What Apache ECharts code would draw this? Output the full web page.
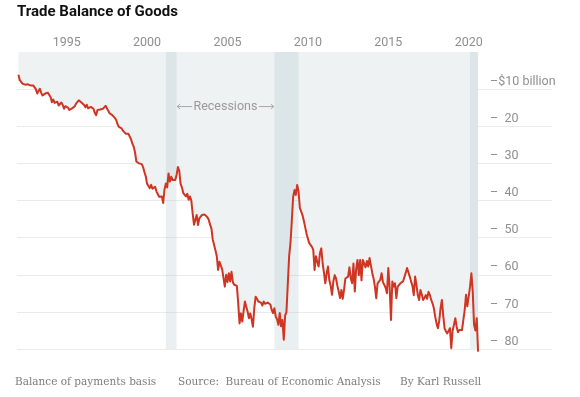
<!DOCTYPE html>
<html><head><meta charset="utf-8">
<script src="https://cdn.jsdelivr.net/npm/echarts@6/dist/echarts.min.js"></script>
<style>html,body{margin:0;padding:0;background:#fff}#c{width:580px;height:397px}</style>
</head><body><div id="c"></div>
<script>
// Monthly U.S. goods trade balance, billions of dollars, from Jan 1992
const startYear = 1992;
const balance = [
  -6.1,-7.6,-7.8,-8.5,-8.3,-8.8,-9.2,-8.7,-8.5,-9.0,-9.4,-9.0,          // 1992
  -8.9,-10.0,-11.2,-10.5,-9.9,-11.0,-11.7,-11.5,-11.2,-11.6,-11.0,-10.8,// 1993
  -12.2,-13.5,-12.8,-13.7,-13.9,-13.4,-14.4,-14.0,-13.6,-14.2,-15.3,-14.6, // 1994
  -14.3,-15.0,-15.6,-15.7,-15.2,-15.5,-14.6,-13.9,-13.4,-13.0,-13.4,-13.6, // 1995
  -13.6,-14.3,-14.9,-14.2,-15.2,-15.7,-14.8,-14.4,-15.3,-16.4,-17.0,-15.6, // 1996
  -16.0,-15.5,-15.0,-15.3,-14.8,-14.5,-14.9,-15.8,-16.5,-16.2,-17.0,-17.4, // 1997
  -17.8,-18.4,-19.5,-20.2,-19.8,-20.6,-21.2,-20.9,-22.0,-21.5,-22.0,-22.4, // 1998
  -23.5,-24.7,-25.5,-27.0,-29.5,-29.8,-30.0,-30.0,-30.2,-31.0,-32.3,-33.5, // 1999
  -35.5,-35.8,-36.7,-35.8,-36.8,-37.1,-36.3,-37.6,-38.0,-39.0,-39.4,-38.9, // 2000
  -40.7,-37.0,-35.4,-36.5,-32.7,-34.9,-33.6,-34.5,-35.0,-34.5,-33.1,-31.0, // 2001
  -32.0,-35.5,-36.5,-38.0,-38.5,-38.9,-38.2,-39.8,-38.9,-40.0,-43.5,-46.5, // 2002
  -46.8,-43.9,-46.6,-44.8,-44.3,-43.9,-44.3,-43.8,-43.4,-44.5,-45.2,-46.5, // 2003
  -47.5,-50.5,-52.0,-53.4,-55.0,-58.7,-56.5,-56.0,-58.5,-58.3,-63.2,-60.0, // 2004
  -62.0,-59.6,-61.8,-59.2,-62.0,-62.7,-63.2,-63.0,-67.7,-73.1,-70.4,-72.6, // 2005
  -69.9,-67.2,-68.6,-69.9,-71.7,-70.4,-72.0,-74.0,-69.0,-65.9,-66.5,-67.2, // 2006
  -67.0,-67.5,-68.3,-67.2,-67.8,-68.1,-67.5,-67.2,-68.0,-69.5,-70.3,-69.0, // 2007
  -71.3,-72.0,-73.5,-70.3,-73.9,-72.2,-77.5,-71.0,-70.0,-69.5,-55.0,-51.5, // 2008
  -45.5,-39.0,-37.2,-38.5,-35.8,-37.5,-42.0,-41.7,-44.0,-45.5,-45.7,-49.0, // 2009
  -48.8,-51.5,-52.0,-52.5,-53.3,-58.7,-55.0,-56.5,-57.8,-54.2,-52.9,-56.9, // 2010
  -59.5,-62.3,-59.6,-57.8,-61.5,-63.0,-65.4,-61.8,-60.1,-61.0,-63.0,-64.5, // 2011
  -66.3,-64.1,-66.5,-64.0,-61.0,-61.4,-60.5,-58.0,-61.0,-62.3,-57.0,-64.5, // 2012
  -58.5,-56.0,-60.1,-56.0,-61.5,-56.0,-55.6,-58.0,-56.3,-57.8,-55.5,-56.0, // 2013
  -59.5,-61.0,-63.2,-66.3,-62.3,-61.8,-61.4,-59.6,-62.0,-61.8,-63.5,-65.0, // 2014
  -58.2,-63.5,-72.2,-61.8,-63.2,-62.3,-66.3,-63.2,-62.7,-62.3,-62.0,-61.8, // 2015
  -62.0,-59.5,-58.2,-58.7,-60.5,-61.8,-63.0,-65.5,-60.5,-62.7,-65.5,-66.8, // 2016
  -64.1,-65.4,-66.8,-66.2,-65.5,-66.5,-64.6,-65.4,-66.8,-67.7,-69.0,-71.3, // 2017
  -73.1,-74.4,-72.5,-69.0,-66.8,-71.0,-74.5,-75.2,-75.8,-76.2,-74.4,-79.8, // 2018
  -75.0,-73.5,-71.7,-74.0,-75.5,-74.9,-74.9,-74.9,-74.4,-69.5,-65.4,-68.5, // 2019
  -69.0,-63.2,-59.6,-64.5,-73.5,-75.0,-71.7,-80.7                          // 2020
];
const yearTicks = [1995, 2000, 2005, 2010, 2015, 2020];
const valueTicks = [-10, -20, -30, -40, -50, -60, -70, -80];
const recessionStart = [2001.167, 2007.917, 2020.083];
const recessionEnd = [2001.833, 2009.417, 2020.583];
const titleText = 'Trade Balance of Goods';
const noteText = 'Balance of payments basis';
const sourceText = 'Source:  Bureau of Economic Analysis';
const bylineText = 'By Karl Russell';
const recessionLabel = 'Recessions';

const points = balance.map((v, i) => [startYear + i / 12, v]);
const bands = recessionStart.map((s, i) => [s, recessionEnd[i], 0, -80]);

const chart = echarts.init(document.getElementById('c'), null, {renderer: 'canvas'});
const grey = '#8f8f8f';
const sans = 'Roboto, "Liberation Sans", sans-serif';
const serif = '"DejaVu Serif", "Liberation Serif", serif';

chart.setOption({
  animation: false,
  backgroundColor: '#fff',
  grid: {left: 17, right: 28, top: 52, bottom: 48, containLabel: false},
  xAxis: {
    type: 'value', position: 'top', min: 1991.91, max: 2025.18,
    axisLine: {show: false}, axisTick: {show: false}, splitLine: {show: false},
    axisLabel: {customValues: yearTicks, color: grey, fontFamily: sans, fontSize: 12.5, margin: 3,
      formatter: v => String(Math.round(v))}
  },
  yAxis: {
    type: 'value', min: -80, max: 0, interval: 10,
    axisLine: {show: false}, axisTick: {show: false},
    splitLine: {show: true, showMaxLine: false, lineStyle: {color: '#ebebeb', width: 1}},
    axisLabel: {
      showMaxLabel: false, align: 'left', verticalAlign: 'bottom', margin: -473,
      color: grey, fontFamily: sans, fontSize: 12.5, padding: [0, 0, 1, 0],
      formatter: v => v === 0 ? '' : (v === -10 ? '\u2013$10 billion' : '\u2013  ' + Math.abs(v))
    }
  },
  series: [
    {
      type: 'line', data: points, showSymbol: false, silent: true, z: 1,
      lineStyle: {opacity: 0, width: 0},
      areaStyle: {origin: 'end', color: '#eef2f3', opacity: 1}
    },
    {
      type: 'custom', data: bands, silent: true, z: 2,
      encode: {x: [0, 1], y: [2, 3]},
      renderItem: (params, api) => {
        const p0 = api.coord([api.value(0), api.value(2)]);
        const p1 = api.coord([api.value(1), api.value(3)]);
        return {type: 'rect', shape: {x: p0[0], y: p0[1], width: p1[0] - p0[0], height: p1[1] - p0[1]},
          style: {fill: 'rgba(150,178,186,0.2)'}};
      }
    },
    {
      type: 'line', data: points, showSymbol: false, silent: true, z: 3, clip: false,
      lineStyle: {color: '#cf3523', width: 2, join: 'round'}
    }
  ]
});

const yAnn = -14.7;
const pL0 = chart.convertToPixel({gridIndex: 0}, [recessionEnd[0] + 0.04, yAnn]);
const pL1 = chart.convertToPixel({gridIndex: 0}, [2002.8, yAnn]);
const pR0 = chart.convertToPixel({gridIndex: 0}, [2006.95, yAnn]);
const pR1 = chart.convertToPixel({gridIndex: 0}, [recessionStart[1] - 0.04, yAnn]);
const pT = chart.convertToPixel({gridIndex: 0}, [2004.87, yAnn]);
const lineStyleAnn = {stroke: '#a8a8a8', lineWidth: 1};
const footFont = '10.5px ' + serif;

chart.setOption({
  graphic: [
    {type: 'text', left: 17, top: 5, style: {text: titleText, font: 'bold 15px Roboto, "Liberation Sans", sans-serif', fill: '#111'}},
    {type: 'text', x: 15, y: 382, style: {text: noteText, font: footFont, fill: '#7d7d7d', verticalAlign: 'middle'}},
    {type: 'text', x: 178, y: 382, style: {text: sourceText, font: footFont, fill: '#7d7d7d', verticalAlign: 'middle'}},
    {type: 'text', x: 400, y: 382, style: {text: bylineText, font: footFont, fill: '#7d7d7d', verticalAlign: 'middle'}},
    {type: 'text', x: pT[0], y: pT[1], z: 10, style: {text: recessionLabel, font: '12.5px ' + sans, fill: '#999', align: 'center', verticalAlign: 'middle'}},
    {type: 'line', z: 10, shape: {x1: pL0[0], y1: pL0[1], x2: pL1[0], y2: pL1[1]}, style: lineStyleAnn},
    {type: 'polyline', z: 10, shape: {points: [[pL0[0] + 3, pL0[1] - 2.5], [pL0[0], pL0[1]], [pL0[0] + 3, pL0[1] + 2.5]]}, style: {stroke: '#a8a8a8', lineWidth: 1, fill: null}},
    {type: 'line', z: 10, shape: {x1: pR0[0], y1: pR0[1], x2: pR1[0], y2: pR1[1]}, style: lineStyleAnn},
    {type: 'polyline', z: 10, shape: {points: [[pR1[0] - 3, pR1[1] - 2.5], [pR1[0], pR1[1]], [pR1[0] - 3, pR1[1] + 2.5]]}, style: {stroke: '#a8a8a8', lineWidth: 1, fill: null}}
  ]
});
</script></body></html>
